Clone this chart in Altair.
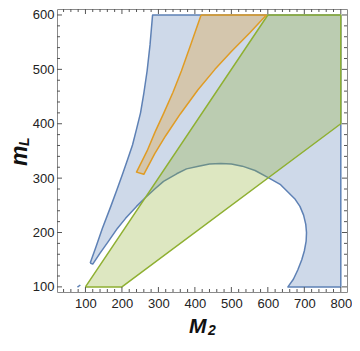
import altair as alt
import pandas as pd

# ---- data ----
# blue region outline (left edge up, top, right, bottom, then inner arc back to tip)
blue_x = [113, 128, 146, 170, 186, 202, 216, 229, 240, 251, 260, 269, 277, 284,
          800, 800, 655,
          670, 682, 693, 700, 705, 706, 704, 698, 688, 675, 657, 635, 601, 565,
          530, 500, 471, 440, 410, 377, 350, 314, 290, 264, 240, 210, 188, 160,
          140, 120, 113]
blue_y = [144, 172, 207, 249, 278, 308, 335, 361, 390, 420, 456, 497, 545, 600,
          600, 100, 100,
          114, 131, 150, 166, 184, 200, 215, 232, 248, 261, 273, 288, 301, 314,
          322, 326, 327, 326, 322, 317, 308, 294, 280, 264, 248, 226, 208, 181,
          162, 142, 144]

# small isolated blue piece near (80,100)
dash_x = [78, 86]
dash_y = [99.5, 103.5]

# orange region outline
orange_x = [417, 596, 550, 500, 455, 408, 360, 320, 290, 260, 240, 269, 291, 315, 340, 363, 390, 417]
orange_y = [600, 600, 567, 533, 500, 462, 418, 378, 345, 307, 311, 350, 385, 420, 458, 497, 548, 600]

# green region outline
green_x = [100, 200, 800, 800, 600, 100]
green_y = [100, 100, 400, 600, 600, 100]

x_major = [100, 200, 300, 400, 500, 600, 700, 800]
y_major = [100, 200, 300, 400, 500, 600]
x_minor = [v for v in range(40, 820, 20) if v % 100 != 0]
y_minor = [v for v in range(100, 611, 20) if v % 100 != 0]

BLUE = "#5E81B5"
ORANGE = "#E09C24"
GREEN = "#8FB032"

W, H = 290, 283
xscale = alt.Scale(domain=[22, 817], nice=False, zero=False)
yscale = alt.Scale(domain=[90.6, 611], nice=False, zero=False)

axis_common = dict(ticks=False, tickSize=0, domain=False, grid=False,
                   labelFontSize=13, labelFont="Liberation Sans", labelColor="#222",
                   title=None, labelOverlap=False, labelFlush=False)
xaxis = alt.Axis(values=x_major, labelPadding=5, **axis_common)
yaxis = alt.Axis(values=y_major, labelPadding=3, **axis_common)


def X(f):
    return alt.X(f, scale=xscale, axis=xaxis)


def Y(f):
    return alt.Y(f, scale=yscale, axis=yaxis)


def poly(xs, ys, color):
    df = pd.DataFrame({"x": xs, "y": ys, "i": list(range(len(xs)))})
    return alt.Chart(df).mark_line(
        fill=color, fillOpacity=0.3, stroke=color, strokeWidth=1.5,
        strokeJoin="round", strokeOpacity=1
    ).encode(x=X("x:Q"), y=Y("y:Q"), order=alt.Order("i:Q"))


blue = poly(blue_x, blue_y, BLUE)
green = poly(green_x, green_y, GREEN)
orange = poly(orange_x, orange_y, ORANGE)
dash = alt.Chart(pd.DataFrame({"x": dash_x, "y": dash_y, "i": [0, 1]})).mark_line(
    stroke=BLUE, strokeWidth=1.5
).encode(x=X("x:Q"), y=Y("y:Q"), order=alt.Order("i:Q"))

TICK = "#555555"


def xticks(vals, y0, y1):
    return alt.Chart(pd.DataFrame({"v": vals})).mark_rule(color=TICK, strokeWidth=1).encode(
        x=X("v:Q"), y=alt.value(y0), y2=alt.value(y1))


def yticks(vals, x0, x1):
    return alt.Chart(pd.DataFrame({"v": vals})).mark_rule(color=TICK, strokeWidth=1).encode(
        y=Y("v:Q"), x=alt.value(x0), x2=alt.value(x1))


ticks = [
    xticks(x_major, H, H - 5), xticks(x_minor, H, H - 3),
    xticks(x_major, 0, 5), xticks(x_minor, 0, 3),
    yticks(y_major, 0, 5), yticks(y_minor, 0, 3),
    yticks(y_major, W, W - 5), yticks(y_minor, W, W - 3),
]

one = pd.DataFrame({"a": [0]})
title_style = dict(font="Liberation Sans", fontWeight="bold", fontStyle="italic",
                   color="#111111", align="left", baseline="alphabetic")
t_M = alt.Chart(one).mark_text(text="M", fontSize=21, **title_style).encode(
    x=alt.value(132), y=alt.value(324))
t_2 = alt.Chart(one).mark_text(text="2", fontSize=14, **title_style).encode(
    x=alt.value(151), y=alt.value(326))
t_m = alt.Chart(one).mark_text(text="m", fontSize=23, angle=270, **title_style).encode(
    x=alt.value(-30), y=alt.value(157))
t_L = alt.Chart(one).mark_text(text="L", fontSize=14, angle=270, **title_style).encode(
    x=alt.value(-28), y=alt.value(137))

chart = alt.layer(blue, green, orange, dash, *ticks, t_M, t_2, t_m, t_L).properties(
    width=W, height=H,
    autosize=alt.AutoSizeParams(type="none"),
    padding={"left": 49, "top": 1, "right": 5, "bottom": 47},
).configure_view(stroke="#8a8a8a", strokeWidth=1)

chart.save("out.html", embed_options={"renderer": "svg", "actions": False})
